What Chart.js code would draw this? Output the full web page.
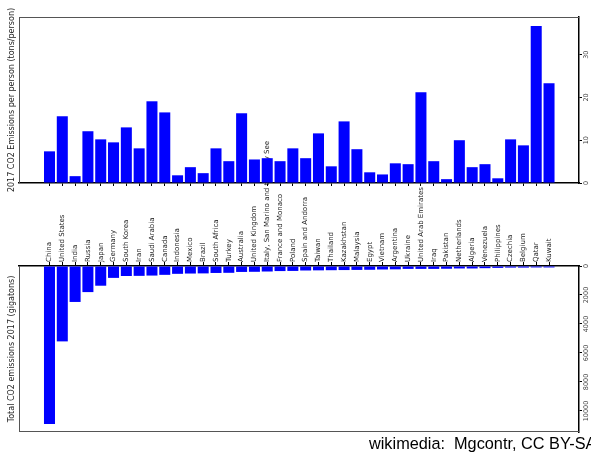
<!DOCTYPE html>
<html>
<head>
<meta charset="utf-8">
<script src="https://cdn.jsdelivr.net/npm/chart.js@4.4.1/dist/chart.umd.min.js"></script>
<style>
html, body { margin: 0; padding: 0; background: #fff; overflow: hidden; width: 591px; height: 452px; }
#wrap { position: relative; width: 591px; height: 452px; }
canvas { position: absolute; left: 0; top: 0; }
#credit { position: absolute; left: 369px; top: 435px; font: 16.3px "Liberation Sans"; line-height: 16px; white-space: nowrap; color: #000; }
</style>
</head>
<body>
<div id="wrap">
  <canvas id="totals" width="591" height="452"></canvas>
  <canvas id="perPerson" width="591" height="200"></canvas>
  <div id="credit">wikimedia:&nbsp; Mgcontr, CC BY-SA</div>
</div>
<script>
const countries = [
    "China", "United States", "India", "Russia", "Japan", "Germany", "South Korea", "Iran",
    "Saudi Arabia", "Canada", "Indonesia", "Mexico", "Brazil", "South Africa", "Turkey",
    "Australia", "United Kingdom", "Italy, San Marino and the Holy See", "France and Monaco",
    "Poland", "Spain and Andorra", "Taiwan", "Thailand", "Kazakhstan", "Malaysia", "Egypt",
    "Vietnam", "Argentina", "Ukraine", "United Arab Emirates", "Iraq", "Pakistan",
    "Netherlands", "Algeria", "Venezuela", "Philippines", "Czechia", "Belgium", "Qatar", "Kuwait",
]

// tons per person
const perPerson = [
    7.4, 15.6, 1.6, 12.1, 10.2, 9.5, 13.0, 8.1, 19.1, 16.5,
    1.8, 3.7, 2.3, 8.1, 5.1, 16.3, 5.5, 5.8, 5.1, 8.1,
    5.8, 11.6, 3.9, 14.4, 7.9, 2.5, 2.0, 4.6, 4.4, 21.2,
    5.1, 0.9, 10.0, 3.7, 4.4, 1.1, 10.2, 8.8, 36.7, 23.3,
]

// total emissions
const totals = [
    10900, 5200, 2480, 1800, 1360, 820, 690, 680, 660, 610,
    540, 520, 510, 480, 470, 410, 400, 380, 350, 340,
    310, 300, 290, 280, 270, 260, 240, 230, 200, 200,
    200, 190, 170, 170, 150, 130, 110, 110, 100, 100,
]

const perPersonTicks = [0, 10, 20, 30]
const totalTicks = [0, 2000, 4000, 6000, 8000, 10000]

Chart.defaults.font.family = "DejaVu Sans"

const BLUE = "#0000ff"
const SPINE = "#555"

// gray frame lines on the sides that carry no axis
const frame = {
    id: "frame",
    beforeDatasetsDraw(chart, args, opts) {
        const { ctx, chartArea: a } = chart
        ctx.save()
        ctx.strokeStyle = opts.color
        ctx.lineWidth = 1
        ctx.beginPath()
        opts.sides.forEach((side) => {
            const l = Math.round(a.left) + 0.5
            const r = Math.round(a.right)
            const t = Math.round(a.top) + 0.5
            const b = Math.round(a.bottom) - 0.5
            if (side === "left") { ctx.moveTo(l, a.top); ctx.lineTo(l, a.bottom) }
            if (side === "top") { ctx.moveTo(a.left, t); ctx.lineTo(r, t) }
            if (side === "bottom") { ctx.moveTo(a.left, b); ctx.lineTo(r, b) }
        })
        ctx.stroke()
        ctx.restore()
    },
}

const indexTicks = (scale) => {
    scale.ticks = countries.map((c, i) => ({ value: i }))
}
const fixedTicks = (values) => (scale) => {
    scale.ticks = values.map((v) => ({ value: v }))
}

const xRange = { min: -2.38, max: 41.34, offset: false }

const rightAxis = (max, ticks, reverse, pad) => ({
    position: "right",
    min: 0,
    max: max,
    reverse: reverse,
    afterBuildTicks: fixedTicks(ticks),
    ticks: {
        minRotation: 90,
        maxRotation: 90,
        crossAlign: "center",
        padding: pad,
        font: { size: 6.5 },
        color: "#444",
        callback: (v) => String(v),
    },
    grid: { drawOnChartArea: false, tickLength: 3, tickColor: "#000" },
    border: { color: "#000", width: 1.5 },
    z: 1,
    afterFit: (s) => { s.width = 12 },
})

const leftTitle = (text) => ({
    position: "left",
    display: true,
    min: 0,
    max: 1,
    ticks: { display: false },
    grid: { display: false },
    border: { display: false },
    title: { display: true, text: text, font: { size: 8 }, color: "#222", padding: { top: 7, bottom: 0 } },
    afterFit: (s) => { s.width = 19 },
})

new Chart(document.getElementById("perPerson"), {
    type: "bar",
    data: {
        datasets: [{
            data: perPerson.map((v, i) => ({ x: i, y: v })),
            backgroundColor: BLUE,
            barPercentage: 0.86,
            categoryPercentage: 1,
        }],
    },
    options: {
        responsive: false,
        animation: false,
        events: [],
        layout: { padding: { top: 17, left: 0, right: 0, bottom: 0 } },
        plugins: {
            legend: { display: false },
            tooltip: { enabled: false },
            frame: { color: SPINE, sides: ["left", "top"] },
        },
        scales: {
            x: {
                type: "linear",
                position: "bottom",
                ...xRange,
                afterBuildTicks: indexTicks,
                ticks: { display: false },
                grid: { offset: false, drawOnChartArea: false, tickLength: 3, tickColor: "#000" },
                border: { color: "#000", width: 1.5 },
                z: 1,
                afterFit: (s) => { s.height = 17 },
            },
            y: rightAxis(38.8, perPersonTicks, false, 0),
            yl: leftTitle("2017 CO2 Emissions per person (tons/person)"),
        },
    },
    plugins: [frame],
})

new Chart(document.getElementById("totals"), {
    type: "bar",
    data: {
        datasets: [{
            data: totals.map((v, i) => ({ x: i, y: v })),
            backgroundColor: BLUE,
            barPercentage: 0.86,
            categoryPercentage: 1,
        }],
    },
    options: {
        responsive: false,
        animation: false,
        events: [],
        layout: { padding: { top: 0, left: 0, right: 0, bottom: 20 } },
        plugins: {
            legend: { display: false },
            tooltip: { enabled: false },
            frame: { color: SPINE, sides: ["left", "bottom"] },
        },
        scales: {
            x: {
                type: "linear",
                position: "top",
                ...xRange,
                afterBuildTicks: indexTicks,
                ticks: {
                    autoSkip: false,
                    minRotation: 90,
                    maxRotation: 90,
                    padding: 0,
                    labelOffset: 8.4,
                    font: { size: 7 },
                    color: "#222",
                    callback: (value) => countries[value],
                },
                grid: { offset: false, drawOnChartArea: false, tickLength: 4, tickColor: "#000" },
                border: { color: "#000", width: 1.5 },
                z: 1,
                afterFit: (s) => { s.height = 266 },
            },
            y: rightAxis(11450, totalTicks, true, -6.3),
            yl: leftTitle("Total CO2 emissions 2017 (gigatons)"),
        },
    },
    plugins: [frame],
})
</script>
</body>
</html>
